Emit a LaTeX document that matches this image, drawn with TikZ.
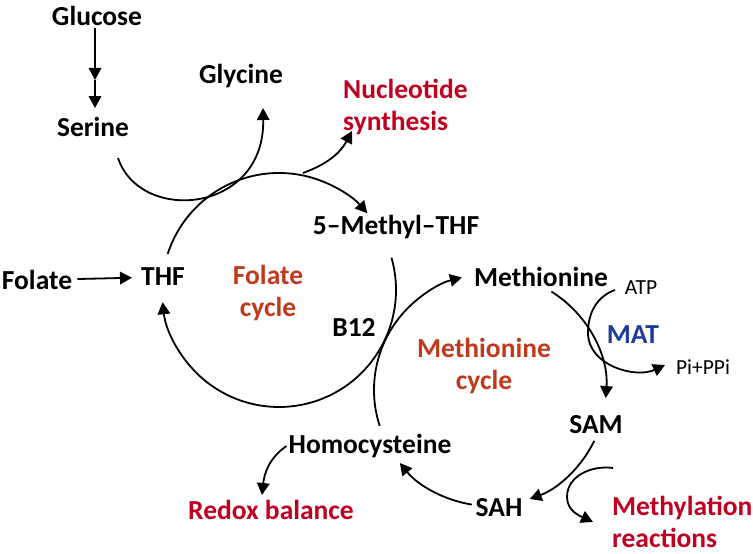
\documentclass[tikz,border=0pt]{standalone}
\usepackage{fontspec}
\setmainfont{Carlito}
\usetikzlibrary{arrows.meta,calc}
\definecolor{outred}{HTML}{C00020}
\definecolor{cycred}{HTML}{C0391B}
\definecolor{matblue}{HTML}{1F3C99}
\tikzset{
  lbl/.style={font=\fontsize{27.5}{32}\selectfont\bfseries, inner sep=2pt},
  sml/.style={font=\fontsize{21.5}{26}\selectfont, inner sep=2pt},
  arr/.style={-{Triangle[length=12pt,width=12.5pt]}, line width=1.8pt},
}
\begin{document}
\begin{tikzpicture}[x=1pt,y=1pt]
  \useasboundingbox (0,0) rectangle (753,554);
  \draw
    (97,538) node[lbl] (glucose){Glucose}
    (93,427) node[lbl] (serine){Serine}
    (241,478) node[lbl] (glycine){Glycine}
    (341,447) node[lbl,outred,anchor=west,align=left] (nucleo){Nucleotide\\synthesis}
    (37,274) node[lbl] (folate){Folate}
    (163,277) node[lbl] (thf){THF}
    (268,261) node[lbl,cycred,align=center] (folcyc){Folate\\cycle}
    (396,327) node[lbl] (mthf){5--Methyl--THF}
    (354,227) node[lbl] (b12){B12}
    (541,277) node[lbl] (met){Methionine}
    (641,266) node[sml] (atp){ATP}
    (633,219) node[lbl,matblue] (mat){MAT}
    (703,187) node[sml] (pippi){Pi+PPi}
    (484,188) node[lbl,cycred,align=center] (metcyc){Methionine\\cycle}
    (596,129) node[lbl] (sam){SAM}
    (370,108) node[lbl] (hcy){Homocysteine}
    (499,46) node[lbl] (sah){SAH}
    (271,44) node[lbl,outred] (redox){Redox balance}
    (610,32) node[lbl,outred,anchor=west,align=left] (methyl){Methylation\\reactions};
  % circle centres and arc ends
  \coordinate (fc) at (279,264);
  \coordinate (mc) at (490,164);
  \coordinate (thfup) at ($(fc)+(162:117)$);
  \coordinate (mthfdn) at ($(fc)+(16:117)$);
  \coordinate (hcyup) at ($(mc)+(198:116)$);
  \coordinate (metdn) at ($(mc)+(58:116)$);
  \coordinate (samdn) at ($(mc)+(-26:116)$);
  \coordinate (sahl) at ($(mc)+(-99:116)$);
  \coordinate (gmid) at (95,474);
  \coordinate (sergo) at (118,396);
  \coordinate (glyin) at (263,446);
  \coordinate (nucgo) at (303,381);
  \coordinate (nucin) at (352,423);
  \coordinate (atpgo) at (615,264);
  \coordinate (matturn) at (588,221);
  \coordinate (pigo) at (665,189);
  \coordinate (methgo) at (613,86);
  \coordinate (methturn) at (567,57);
  \coordinate (methin) at (593,32);
  \coordinate (redoxin) at (262,59);
  \begin{scope}[arr]
    \draw (glucose.south -| gmid) -- (gmid);
    \draw[shorten >=7pt] (gmid) -- (serine.north -| gmid);
    \draw[shorten <=3pt, shorten >=7pt] (folate) -- (thf);
    \draw (sergo) .. controls (140,330) and (265,340) .. (glyin);
    \draw (nucgo) to[out=20,in=-118] (nucin);
    \draw (thfup) arc[start angle=162,end angle=41,radius=117pt];
    \draw (mthfdn) arc[start angle=16,end angle=-174,radius=117pt];
    \draw (hcyup) arc[start angle=198,end angle=104,radius=116pt];
    \draw (metdn) arc[start angle=58,end angle=-4,radius=116pt];
    \draw (samdn) arc[start angle=-26,end angle=-70,radius=116pt];
    \draw (sahl) arc[start angle=-99,end angle=-141,radius=116pt];
    \draw (atpgo) to[out=200,in=90] (matturn) to[out=-90,in=205] (pigo);
    \draw (methgo) to[out=172,in=90] (methturn) to[out=-90,in=155] (methin);
    \draw (hcy.west) to[out=215,in=84] (redoxin);
  \end{scope}
\end{tikzpicture}
\end{document}
